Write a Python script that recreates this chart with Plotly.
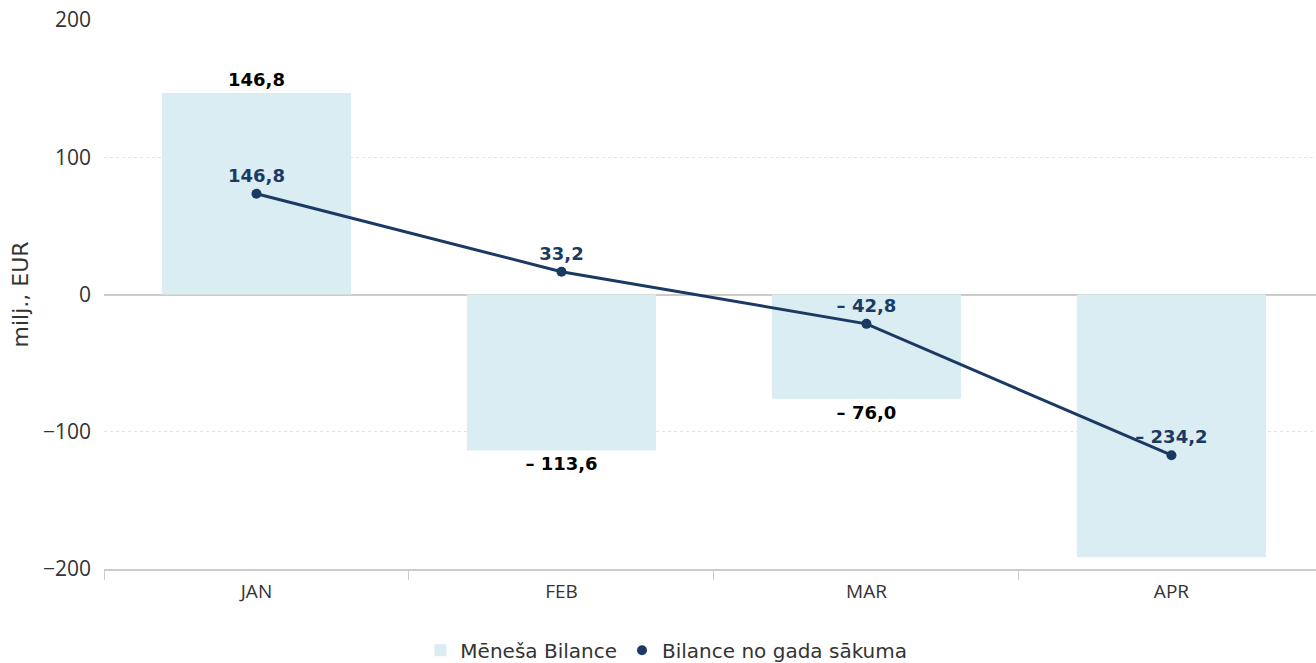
import plotly.graph_objects as go

months = ["JAN", "FEB", "MAR", "APR"]
monthly = [146.8, -113.6, -76.0, -191.4]
cumulative = [146.8, 33.2, -42.8, -234.2]
bar_label_shown = [True, True, True, False]
y_ticks = [-200, -100, 0, 100, 200]

BAR_COLOR = "#daedf3"
LINE_COLOR = "#1b3a63"
TICK_FONT = "Open Sans"
TEXT_FONT = "DejaVu Sans"


def fmt(v):
    s = f"{abs(v):.1f}".replace(".", ",")
    return ("– " + s) if v < 0 else s


bar_text = [fmt(v) if show else "" for v, show in zip(monthly, bar_label_shown)]
line_text = [fmt(v) for v in cumulative]

fig = go.Figure()
fig.add_trace(go.Bar(
    x=months, y=monthly, name="Mēneša Bilance",
    marker=dict(color=BAR_COLOR, line=dict(width=0)),
    width=0.62,
    text=bar_text, textposition="outside", cliponaxis=False,
    constraintext="none", textangle=0,
    textfont=dict(family=TEXT_FONT, size=18, color="#000000", weight="bold"),
    hoverinfo="skip",
))
fig.add_trace(go.Scatter(
    x=months, y=cumulative, yaxis="y2", mode="lines",
    line=dict(color=LINE_COLOR, width=3), showlegend=False,
    legendgroup="cum", hoverinfo="skip",
))
fig.add_trace(go.Scatter(
    x=months, y=cumulative, yaxis="y2", mode="markers+text",
    name="Bilance no gada sākuma", legendgroup="cum",
    marker=dict(color=LINE_COLOR, size=10),
    text=line_text, textposition="top center", cliponaxis=False,
    textfont=dict(family=TEXT_FONT, size=18, color=LINE_COLOR, weight="bold"),
))

fig.update_layout(
    width=1316, height=663,
    margin=dict(l=104, r=0, t=20, b=94, autoexpand=False),
    paper_bgcolor="white", plot_bgcolor="white",
    font=dict(family=TEXT_FONT, size=20, color="#333333"),
    xaxis=dict(
        type="category", range=[-0.5, 3.474], automargin=False,
        showline=True, linecolor="#cccccc", linewidth=1.5,
        ticks="outside", tickson="boundaries", ticklen=9, tickcolor="#cccccc",
        tickfont=dict(family=TICK_FONT, size=19, color="#333333"), ticklabelstandoff=4,
        showgrid=False,
    ),
    yaxis=dict(
        range=[-200, 200], tickvals=y_ticks, automargin=False,
        showgrid=True, gridcolor="#e3e3e3", griddash="dot", gridwidth=1,
        zeroline=True, zerolinecolor="#cccccc", zerolinewidth=1.5,
        tickfont=dict(family=TICK_FONT, size=21, color="#333333"),
        title=dict(text="milj., EUR", font=dict(family=TEXT_FONT, size=22, color="#333333"), standoff=8),
        ticklabelstandoff=12,
    ),
    yaxis2=dict(range=[-400, 400], overlaying="y", visible=False),
    legend=dict(
        orientation="h", x=0.464, xanchor="center", y=-0.148, yanchor="middle",
        font=dict(family=TEXT_FONT, size=20, color="#333333"),
        traceorder="normal",
    ),
)

fig.write_html("out.html", config={"displayModeBar": False},
               post_script="document.body.style.margin='0';")
